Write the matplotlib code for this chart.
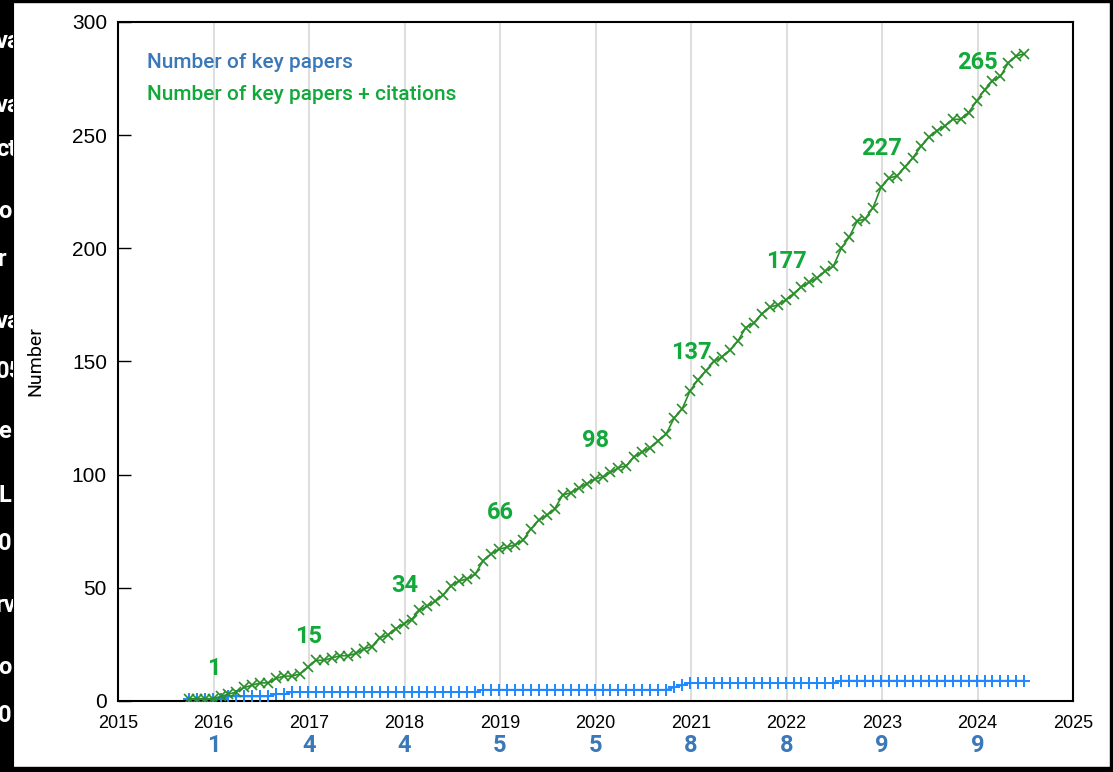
import matplotlib
matplotlib.use('Agg')
import matplotlib.pyplot as plt
import numpy as np

# monthly series, first point ~Oct 2015
start_year = 2015.74
key_papers = [1, 1, 1, 1, 1, 2, 2, 2, 2, 2, 2, 3, 3, 4, 4, 4, 4, 4, 4, 4,
              4, 4, 4, 4, 4, 4, 4, 4, 4, 4, 4, 4, 4, 4, 4, 4, 4, 5, 5, 5,
              5, 5, 5, 5, 5, 5, 5, 5, 5, 5, 5, 5, 5, 5, 5, 5, 5, 5, 5, 5,
              5, 6, 7, 8, 8, 8, 8, 8, 8, 8, 8, 8, 8, 8, 8, 8, 8, 8, 8, 8,
              8, 8, 9, 9, 9, 9, 9, 9, 9, 9, 9, 9, 9, 9, 9, 9, 9, 9, 9, 9,
              9, 9, 9, 9, 9, 9]
with_citations = [1, 1, 1, 1, 2, 3, 4, 6, 7, 8, 8, 10, 11, 11, 12, 15, 18, 18, 19, 20,
                  20, 21, 23, 24, 28, 29, 32, 34, 36, 40, 42, 44, 47, 51, 53, 54, 56, 62, 65, 67,
                  68, 69, 71, 76, 80, 82, 85, 91, 92, 94, 96, 98, 99, 101, 103, 104, 108, 110, 112, 115,
                  118, 125, 129, 137, 142, 146, 150, 152, 155, 159, 165, 167, 171, 174, 175, 177, 180, 183, 185, 187,
                  190, 192, 200, 205, 212, 213, 218, 227, 231, 232, 236, 240, 245, 249, 252, 254,
                  257, 257, 260, 265, 270, 274, 276, 282, 285, 286]

label_years = [2016, 2017, 2018, 2019, 2020, 2021, 2022, 2023, 2024]
green_labels = [1, 15, 34, 66, 98, 137, 177, 227, 265]
blue_labels = [1, 4, 4, 5, 5, 8, 8, 9, 9]

narrow = ['Roboto', 'DejaVu Sans']
plt.rcParams['font.family'] = ['Liberation Sans', 'DejaVu Sans']

t_blue = np.arange(len(key_papers)) / 12 + start_year
t_green = np.arange(len(with_citations)) / 12 + start_year

fig = plt.figure(figsize=(11.13, 7.72), dpi=100)
ax = fig.add_axes([118/1113, 71/772, 955/1113, 679/772])

for yr in range(2016, 2025):
    ax.axvline(yr, color='#d8d8d8', lw=1.2, zorder=0)

ax.plot(t_blue, key_papers, color='#1e88ff', marker='+', ms=8.5, mew=1.4, lw=1.2, zorder=3)
ax.plot(t_green, with_citations, color='#2a8f2a', marker='x', ms=7.5, mew=1.2, lw=1.2, zorder=4)

ax.set_xlim(2015, 2025)
ax.set_ylim(0, 300)
ax.set_xticks(range(2015, 2026))
ax.set_yticks(range(0, 301, 50))
ax.tick_params(axis='y', direction='in', length=9, width=1, labelsize=15, pad=8)
ax.tick_params(axis='x', length=0, labelsize=13, pad=10)
for s in ax.spines.values():
    s.set_linewidth(1.5)
ax.set_ylabel('Number', fontsize=14, family=narrow, labelpad=20)

# green labels over the curve (the two small early ones sit a bit lower)
for yr, v in zip(label_years, green_labels):
    off = 22 if v < 20 else 28
    ax.annotate(str(v), (yr, v), xytext=(0, off), textcoords='offset points',
                ha='center', va='center', fontsize=17, fontweight='bold',
                color='#12a83a', family=narrow, zorder=5)

# blue labels under the year ticks
for yr, v in zip(label_years, blue_labels):
    ax.text(yr, -0.066, str(v), transform=ax.get_xaxis_transform(), ha='center', va='center',
            fontsize=17, fontweight='bold', color='#3a78b8', family=narrow)

ax.text(0.03, 0.94, 'Number of key papers', transform=ax.transAxes, fontsize=15,
        color='#3a78b8', family=narrow, va='center', fontweight='medium')
ax.text(0.03, 0.893, 'Number of key papers + citations', transform=ax.transAxes, fontsize=15,
        color='#12a83a', family=narrow, va='center', fontweight='medium')

# screenshot frame: black strip on the left with clipped text, thin borders
strip = fig.add_axes([0, 0, 13/1113, 1])
strip.set_facecolor('black')
strip.set_xlim(0, 13)
strip.set_ylim(772, 0)
strip.set_xticks([])
strip.set_yticks([])
frag = ['va', 'va', 'ct', 'o', 'r', 'va', '05', 'e', 'L', '0', 'rv', 'o', '0']
frag_y = [42, 106, 150, 212, 260, 322, 372, 432, 495, 543, 605, 668, 716]
for s, y in zip(frag, frag_y):
    strip.text(-4 if len(s) > 1 else -2, y, s, color='white', fontsize=17, fontweight='bold',
               family=narrow, va='center', ha='left', clip_on=True)
fig.add_artist(plt.Rectangle((1110/1113, 0), 3/1113, 1, transform=fig.transFigure, color='black'))
fig.add_artist(plt.Rectangle((0, 0), 1, 5/772, transform=fig.transFigure, color='black'))
fig.add_artist(plt.Rectangle((0, 1 - 1.5/772), 1, 1.5/772, transform=fig.transFigure, color='black'))

fig.savefig('out.png', dpi=100)
